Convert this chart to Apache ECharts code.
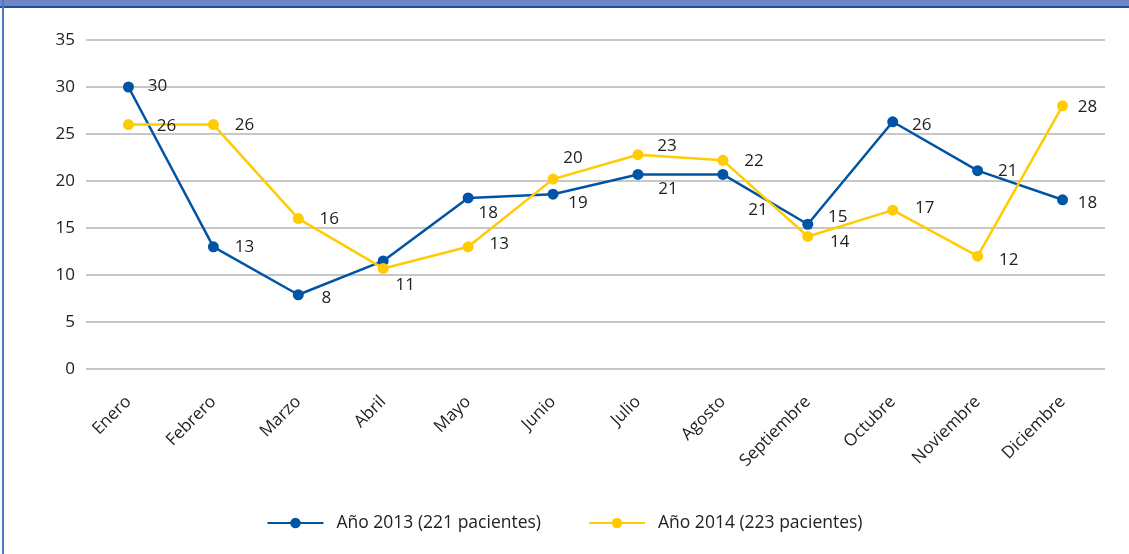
<!DOCTYPE html>
<html>
<head>
<meta charset="utf-8">
<script src="https://cdn.jsdelivr.net/npm/echarts@6/dist/echarts.min.js"></script>
<style>
    html, body { margin: 0; padding: 0; background: #fff; }
    #wrap { position: relative; width: 1129px; height: 554px; overflow: hidden; }
    #band { position: absolute; left: 0; top: 0; width: 1129px; height: 6px; background: #6f87c4; border-bottom: 2px solid #1f4e9e; }
    #leftBar { position: absolute; left: 2px; top: 0; width: 2px; height: 554px; background: #4a78c4; }
    #chart { position: absolute; left: 0; top: 0; width: 1129px; height: 554px; }
</style>
</head>
<body>
<div id="wrap">
    <div id="chart"></div>
    <div id="band"></div>
    <div id="leftBar"></div>
</div>
<script>
// 데이터
const meses = ['Enero', 'Febrero', 'Marzo', 'Abril', 'Mayo', 'Junio', 'Julio', 'Agosto', 'Septiembre', 'Octubre', 'Noviembre', 'Diciembre'];
const anio2013 = [30, 13, 7.9, 11.5, 18.2, 18.6, 20.7, 20.7, 15.4, 26.3, 21.1, 18];
const anio2014 = [26, 26, 16, 10.7, 13, 20.2, 22.8, 22.2, 14.1, 16.9, 12, 28];
const nombre2013 = 'Año 2013 (221 pacientes)';
const nombre2014 = 'Año 2014 (223 pacientes)';

// 라벨 위치 (점 중심 기준 px)
const offsets2013 = [[29, -1], [31, 0], [28, 3], null, [20, 15], [25, 9], [30, 15], [35, 36], [30, -7], [29, 3], [30, 0], [25, 3]];
const offsets2014 = [[38, 2], [31, 1], [31, 1], [22, 17], [31, -3], [20, -21], [29, -9], [31, 1], [32, 6], [32, -2], [31, 4], [25, 1]];

const FONT = '"Open Sans", "Noto Sans", sans-serif';
const TXT = '#222';

function buildData(values, offsets) {
    return values.map((v, i) => ({
        value: v,
        label: offsets[i]
            ? { show: true, position: 'inside', offset: offsets[i] }
            : { show: false }
    }));
}

function makeSeries(name, values, offsets, color) {
    return {
        name: name,
        type: 'line',
        data: buildData(values, offsets),
        symbol: 'circle',
        symbolSize: 11,
        itemStyle: { color: color },
        lineStyle: { color: color, width: 2.5 },
        label: {
            color: TXT,
            fontFamily: FONT,
            fontSize: 17,
            textBorderWidth: 0,
            formatter: p => Math.round(p.value)
        },
        emphasis: { disabled: true },
        animation: false
    };
}

const chart = echarts.init(document.getElementById('chart'));
chart.setOption({
    animation: false,
    grid: { left: 86, right: 24, top: 40, bottom: 185 },
    legend: {
        bottom: 17,
        left: 'center',
        itemWidth: 56,
        itemHeight: 13,
        itemGap: 47,
        textStyle: { color: TXT, fontFamily: FONT, fontSize: 17.5, padding: [0, 0, 0, 8] },
        data: [nombre2013, nombre2014]
    },
    xAxis: {
        type: 'category',
        data: meses,
        boundaryGap: true,
        axisLine: { show: false },
        axisTick: { show: false },
        axisLabel: {
            interval: 0,
            rotate: 45,
            margin: 30,
            color: TXT,
            fontFamily: FONT,
            fontSize: 17
        }
    },
    yAxis: {
        type: 'value',
        min: 0,
        max: 35,
        interval: 5,
        axisLine: { show: false },
        axisTick: { show: false },
        axisLabel: { color: TXT, fontFamily: FONT, fontSize: 17, margin: 11 },
        splitLine: { lineStyle: { color: '#b4b4b4', width: 1.5 } }
    },
    series: [
        makeSeries(nombre2013, anio2013, offsets2013, '#0054a4'),
        makeSeries(nombre2014, anio2014, offsets2014, '#ffcc00')
    ]
});
</script>
</body>
</html>
